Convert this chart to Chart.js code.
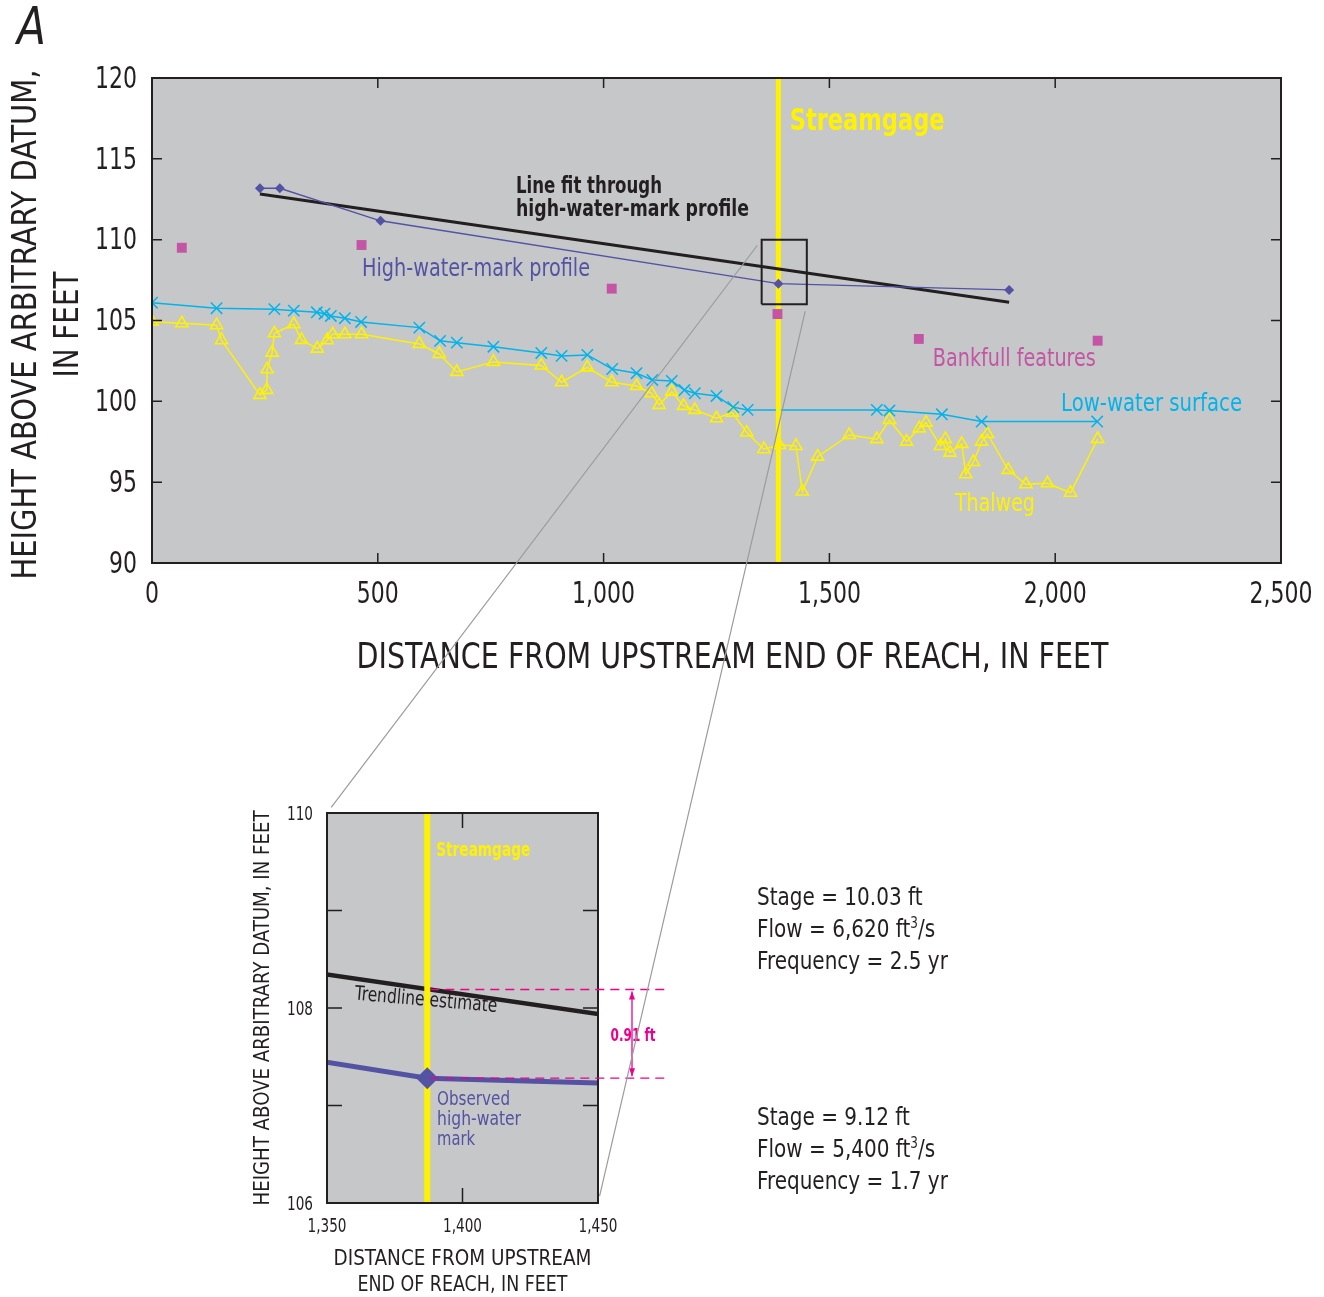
<!DOCTYPE html>
<html>
<head>
<meta charset="utf-8">
<script src="https://cdn.jsdelivr.net/npm/chart.js@4.4.1/dist/chart.umd.min.js"></script>
<style>
  body { margin: 0; background: #fff; }
  #page { position: relative; width: 1324px; height: 1297px; overflow: hidden;
          font-family: "Liberation Sans Narrow", "DejaVu Sans Condensed", sans-serif; color: #231f20; }
  #mainChart { position: absolute; left: 0; top: 0; }
  #insetChart { position: absolute; left: 240px; top: 790px; }
  #overlay { position: absolute; left: 0; top: 0; pointer-events: none; }
  #panel { position: absolute; left: 17px; top: -3px; font-size: 51px; font-style: italic; transform: scaleX(0.92); transform-origin: 0 0; }
  .stats { position: absolute; left: 757px; font-size: 25px; line-height: 32px; white-space: nowrap;
           transform: scaleX(0.89); transform-origin: 0 0; }
  .stats sup { font-size: 15px; line-height: 0; }
</style>
</head>
<body>
<div id="page">
  <canvas id="mainChart" width="1324" height="700"></canvas>
  <canvas id="insetChart" width="470" height="507"></canvas>
  <canvas id="overlay" width="1324" height="1297"></canvas>
  <div id="panel">A</div>
  <div class="stats" style="top:881px">Stage = 10.03 ft<br>Flow = 6,620 ft<sup>3</sup>/s<br>Frequency = 2.5 yr</div>
  <div class="stats" style="top:1101px">Stage = 9.12 ft<br>Flow = 5,400 ft<sup>3</sup>/s<br>Frequency = 1.7 yr</div>
</div>
<script>
/* --------- データ --------- */
// 最深河床線 Thalweg
const thalwegDist = [0, 66, 143, 154, 239, 254, 255, 266, 271, 314, 331, 366, 388, 400, 427, 464,
  592, 636, 675, 756, 862, 907, 964, 1018, 1073, 1106, 1123, 1151, 1177, 1202, 1250, 1285, 1317,
  1355, 1389, 1426, 1440, 1474, 1544, 1605, 1633, 1671, 1699, 1714, 1746, 1757, 1767, 1793, 1802,
  1819, 1837, 1850, 1896, 1935, 1983, 2034, 2094];
const thalwegElev = [104.93, 104.83, 104.71, 103.78, 100.4, 100.71, 101.98, 103.01, 104.21, 104.77,
  103.8, 103.26, 103.78, 104.15, 104.15, 104.15, 103.55, 102.93, 101.82, 102.44, 102.22, 101.18,
  102.1, 101.18, 100.95, 100.5, 99.78, 100.6, 99.72, 99.47, 98.95, 99.3, 98.07, 97.04, 97.3, 97.24,
  94.42, 96.58, 97.92, 97.66, 98.85, 97.51, 98.33, 98.68, 97.24, 97.66, 96.83, 97.37, 95.49, 96.25,
  97.51, 97.98, 95.76, 94.87, 94.93, 94.35, 97.67];

// 低水位 Low-water surface
const lowDist = [0, 143, 271, 314, 365, 382, 396, 427, 463, 592, 638, 675, 756, 862, 907, 964,
  1019, 1073, 1108, 1151, 1179, 1202, 1250, 1287, 1319, 1605, 1633, 1749, 1837, 2093];
const lowElev = [106.1, 105.76, 105.7, 105.61, 105.51, 105.42, 105.28, 105.14, 104.91, 104.56,
  103.74, 103.63, 103.38, 102.99, 102.81, 102.87, 102.0, 101.74, 101.32, 101.26, 100.7, 100.5,
  100.33, 99.64, 99.47, 99.47, 99.43, 99.2, 98.75, 98.75];

// 高水痕 High-water-mark profile
const hwmDist = [239, 283, 506, 1387, 1898];
const hwmElev = [113.18, 113.18, 111.17, 107.28, 106.89];

// 近似直線 Line fit through high-water-mark profile
const fitDist = [239, 1898];
const fitElev = [112.83, 106.13];

// 満水位の痕跡 Bankfull features
const bankDist = [66, 464, 1018, 1385, 1698, 2094];
const bankElev = [109.5, 109.67, 106.97, 105.4, 103.86, 103.75];

// 水位観測所 Streamgage
const gageDist = 1387;

// 軸の範囲・目盛
const mainXRange = [0, 2500];
const mainYRange = [90, 120];
const mainXStep = 500;
const mainYStep = 5;
const zoomXRange = [1350, 1450];
const zoomYRange = [106, 110];
const zoomXStep = 50;
const zoomYStep = 1;

// 拡大図の差（トレンド推定値と観測値）
const gapElev = [108.19, 107.28];
const gapLabel = "0.91 ft";

/* --------- 色・フォント --------- */
const FONT = '"Liberation Sans Narrow", "DejaVu Sans Condensed", sans-serif';
const C = {
  plot: "#c6c7c9",
  ink: "#231f20",
  yellow: "#fff200",
  cyan: "#00b4eb",
  hwm: "#5352a3",
  bank: "#c455a4",
  pink: "#ec008c",
  connector: "#9b9b9b",
};

const pts = (xs, ys) => xs.map((x, i) => ({ x, y: ys[i] }));
const fmt = (v) => v.toLocaleString("en-US");

/* --------- ヘルパー --------- */
// 幅を合わせて横方向に縮めた文字を描く
function squeeze(ctx, s, x, y, align, sx, rot) {
  ctx.save();
  ctx.translate(x, y);
  if (rot) ctx.rotate(rot);
  ctx.translate(0, 2);
  ctx.scale(sx, 1);
  ctx.textAlign = align;
  ctx.textBaseline = "middle";
  ctx.fillText(s, 0, 0);
  ctx.restore();
}
const fitSx = (ctx, s, w) => w / ctx.measureText(s).width;

/* --------- プラグイン --------- */
// プロット領域の背景
const plotBg = {
  id: "plotBg",
  beforeDatasetsDraw(chart) {
    const { ctx, chartArea: a } = chart;
    ctx.save();
    ctx.fillStyle = C.plot;
    ctx.fillRect(a.left, a.top, a.width, a.height);
    ctx.restore();
  },
};

// 内向きの目盛と枠
const innerTicks = {
  id: "innerTicks",
  afterDatasetsDraw(chart, args, opts) {
    const { ctx, chartArea: a, scales } = chart;
    const len = opts.len || 10;
    ctx.save();
    ctx.strokeStyle = C.ink;
    ctx.lineWidth = 1.5;
    ctx.beginPath();
    scales.x.ticks.forEach((t) => {
      const px = scales.x.getPixelForValue(t.value);
      ctx.moveTo(px, a.bottom); ctx.lineTo(px, a.bottom - len);
      ctx.moveTo(px, a.top); ctx.lineTo(px, a.top + len);
    });
    scales.y.ticks.forEach((t) => {
      const py = scales.y.getPixelForValue(t.value);
      ctx.moveTo(a.left, py); ctx.lineTo(a.left + len, py);
      ctx.moveTo(a.right, py); ctx.lineTo(a.right - len, py);
    });
    ctx.stroke();
    ctx.lineWidth = 2;
    ctx.strokeRect(a.left, a.top, a.width, a.height);
    ctx.restore();
  },
};

// 目盛ラベルと軸タイトル
const axisText = {
  id: "axisText",
  afterDraw(chart, args, o) {
    const { ctx, chartArea: a, scales: { x, y } } = chart;
    ctx.save();
    ctx.fillStyle = C.ink;
    ctx.font = `${o.tickSize}px ${FONT}`;
    const sx = fitSx(ctx, o.tickRef[0], o.tickRef[1]);
    x.ticks.forEach((t) => {
      if (t.label !== "") squeeze(ctx, t.label, x.getPixelForValue(t.value), a.bottom + o.xPad, "center", sx);
    });
    y.ticks.forEach((t) => {
      if (t.label !== "") squeeze(ctx, t.label, a.left - o.yPad, y.getPixelForValue(t.value), "right", sx);
    });
    const cx = (a.left + a.right) / 2;
    const cy = (a.top + a.bottom) / 2;
    const xt = o.xTitle;
    ctx.font = `${xt.size}px ${FONT}`;
    xt.lines.forEach((s, i) => {
      squeeze(ctx, s, cx + xt.dx, a.bottom + xt.dy + i * xt.lh, "center", fitSx(ctx, s, xt.w[i]));
    });
    const yt = o.yTitle;
    ctx.font = `${yt.size}px ${FONT}`;
    yt.lines.forEach((s, i) => {
      squeeze(ctx, s, a.left + yt.dx + i * yt.lh, cy + yt.dy, "center", fitSx(ctx, s, yt.w[i]), -Math.PI / 2);
    });
    ctx.restore();
  },
};

// 文字の注記（データ座標で配置）
const textNotes = {
  id: "textNotes",
  afterDraw(chart, args, opts) {
    const { ctx, scales: { x, y } } = chart;
    (opts.items || []).forEach((n) => {
      ctx.save();
      ctx.font = `${n.bold ? "bold " : ""}${n.size}px ${FONT}`;
      ctx.fillStyle = n.color;
      const px = x.getPixelForValue(n.x);
      const py = y.getPixelForValue(n.y);
      n.lines.forEach((s, i) => {
        const r = n.rot ? (n.rot * Math.PI) / 180 : 0;
        squeeze(ctx, s, px - Math.sin(r) * i * n.lh, py + Math.cos(r) * i * n.lh, "left", fitSx(ctx, s, n.w[i]), r);
      });
      ctx.restore();
    });
  },
};

// 拡大図の差の表示（破線と矢印）
const gapMarker = {
  id: "gapMarker",
  afterDraw(chart) {
    if (!chart.options.plugins.gapMarker.on) return;
    const { ctx, chartArea: a, scales: { x, y } } = chart;
    const x0 = x.getPixelForValue(gageDist) + 3;
    const x1 = a.right + 72;
    const ax = a.right + 34;
    const y0 = y.getPixelForValue(gapElev[0]);
    const y1 = y.getPixelForValue(gapElev[1]);
    ctx.save();
    ctx.strokeStyle = C.pink;
    ctx.lineWidth = 1.3;
    ctx.setLineDash([9, 6]);
    ctx.beginPath();
    [y0, y1].forEach((py) => { ctx.moveTo(x0, py); ctx.lineTo(x1, py); });
    ctx.stroke();
    ctx.setLineDash([]);
    ctx.beginPath();
    ctx.moveTo(ax, y0 + 2); ctx.lineTo(ax, y1 - 2);
    ctx.stroke();
    ctx.fillStyle = C.pink;
    [[y0 + 2, 1], [y1 - 2, -1]].forEach(([py, d]) => {
      ctx.beginPath();
      ctx.moveTo(ax, py);
      ctx.lineTo(ax - 3, py + 8 * d);
      ctx.lineTo(ax + 3, py + 8 * d);
      ctx.closePath();
      ctx.fill();
    });
    ctx.font = `bold 18px ${FONT}`;
    squeeze(ctx, gapLabel, ax + 1, (y0 + y1) / 2, "center", fitSx(ctx, gapLabel, 45));
    ctx.restore();
  },
};

const hiddenScale = { grid: { display: false, drawTicks: false }, border: { display: false } };

/* --------- 本図 --------- */
const mainChart = new Chart(document.getElementById("mainChart"), {
  type: "line",
  data: {
    datasets: [
      {
        label: "zoom box",
        data: pts(
          [zoomXRange[0], zoomXRange[0], zoomXRange[1], zoomXRange[1], zoomXRange[0]],
          [zoomYRange[0], zoomYRange[1], zoomYRange[1], zoomYRange[0], zoomYRange[0]]
        ),
        borderColor: C.ink, borderWidth: 2, pointRadius: 0, tension: 0,
      },
      {
        label: "Bankfull features",
        data: pts(bankDist, bankElev),
        showLine: false, pointStyle: "rect", pointRadius: 7,
        backgroundColor: C.bank, borderColor: C.bank, borderWidth: 0,
      },
      {
        label: "High-water-mark profile",
        data: pts(hwmDist, hwmElev),
        borderColor: C.hwm, borderWidth: 1.3, backgroundColor: C.hwm,
        pointStyle: "rectRot", pointRadius: 5, pointBorderWidth: 0,
      },
      {
        label: "Line fit",
        data: pts(fitDist, fitElev),
        borderColor: C.ink, borderWidth: 3, pointRadius: 0,
      },
      {
        label: "Streamgage",
        data: pts([gageDist, gageDist], mainYRange),
        borderColor: C.yellow, borderWidth: 5, pointRadius: 0,
      },
      {
        label: "Low-water surface",
        data: pts(lowDist, lowElev),
        borderColor: C.cyan, borderWidth: 1.5, pointStyle: "crossRot",
        pointRadius: 8, pointBorderWidth: 1.5, pointBorderColor: C.cyan,
      },
      {
        label: "Thalweg",
        data: pts(thalwegDist, thalwegElev),
        borderColor: C.yellow, borderWidth: 1.5, pointStyle: "triangle",
        pointRadius: 7, pointBorderWidth: 1.6, pointBorderColor: C.yellow,
        pointBackgroundColor: "rgba(0,0,0,0)",
      },
    ],
  },
  options: {
    responsive: false,
    animation: false,
    events: [],
    layout: { padding: { top: 78, right: 43, left: 0, bottom: 0 } },
    scales: {
      x: {
        type: "linear", min: mainXRange[0], max: mainXRange[1], ...hiddenScale,
        ticks: { stepSize: mainXStep, display: false, callback: fmt },
        afterFit: (s) => { s.height = 137; },
      },
      y: {
        min: mainYRange[0], max: mainYRange[1], ...hiddenScale,
        ticks: { stepSize: mainYStep, display: false },
        afterFit: (s) => { s.width = 152; },
      },
    },
    plugins: {
      legend: { display: false },
      tooltip: { enabled: false },
      innerTicks: { len: 10 },
      gapMarker: { on: false },
      axisText: {
        tickSize: 30, tickRef: ["1,000", 63], xPad: 30, yPad: 15,
        xTitle: { lines: ["DISTANCE FROM UPSTREAM END OF REACH, IN FEET"], w: [752], size: 35, dx: 16, dy: 94, lh: 0 },
        yTitle: { lines: ["HEIGHT ABOVE ARBITRARY DATUM,", "IN FEET"], w: [510, 106], size: 33, dx: -127, dy: 4, lh: 42 },
      },
      textNotes: {
        items: [
          { lines: ["Streamgage"], w: [155], x: 1412, y: 117.4, size: 30, bold: true, color: C.yellow, lh: 0 },
          { lines: ["Line fit through", "high-water-mark profile"], w: [146, 233], x: 806, y: 113.4, size: 23, bold: true, color: C.ink, lh: 23 },
          { lines: ["High-water-mark profile"], w: [228], x: 465, y: 108.25, size: 24, color: C.hwm, lh: 0 },
          { lines: ["Bankfull features"], w: [163], x: 1729, y: 102.68, size: 24, color: C.bank, lh: 0 },
          { lines: ["Low-water surface"], w: [181], x: 2013, y: 99.9, size: 24, color: C.cyan, lh: 0 },
          { lines: ["Thalweg"], w: [80], x: 1778, y: 93.72, size: 24, color: C.yellow, lh: 0 },
        ],
      },
    },
  },
  plugins: [plotBg, innerTicks, axisText, textNotes, gapMarker],
});

/* --------- 拡大図 --------- */
const insetChart = new Chart(document.getElementById("insetChart"), {
  type: "line",
  data: {
    datasets: [
      {
        label: "High-water mark",
        data: pts(hwmDist, hwmElev),
        borderColor: C.hwm, borderWidth: 5, backgroundColor: C.hwm,
        pointStyle: "rectRot", pointRadius: 11, pointBorderWidth: 0,
      },
      {
        label: "Streamgage",
        data: pts([gageDist, gageDist], zoomYRange),
        borderColor: C.yellow, borderWidth: 6, pointRadius: 0,
      },
      {
        label: "Trendline",
        data: pts(fitDist, fitElev),
        borderColor: C.ink, borderWidth: 4.5, pointRadius: 0,
      },
    ],
  },
  options: {
    responsive: false,
    animation: false,
    events: [],
    layout: { padding: { top: 23, right: 112, left: 0, bottom: 0 } },
    scales: {
      x: {
        type: "linear", min: zoomXRange[0], max: zoomXRange[1], ...hiddenScale,
        ticks: { stepSize: zoomXStep, display: false, callback: fmt },
        afterFit: (s) => { s.height = 94; },
      },
      y: {
        min: zoomYRange[0], max: zoomYRange[1], ...hiddenScale,
        ticks: { stepSize: zoomYStep, display: false, callback: (v) => (v % 2 === 0 ? String(v) : "") },
        afterFit: (s) => { s.width = 87; },
      },
    },
    plugins: {
      legend: { display: false },
      tooltip: { enabled: false },
      innerTicks: { len: 15 },
      gapMarker: { on: true },
      axisText: {
        tickSize: 19, tickRef: ["1,350", 39], xPad: 22, yPad: 14,
        xTitle: { lines: ["DISTANCE FROM UPSTREAM", "END OF REACH, IN FEET"], w: [258, 210], size: 21, dx: 0, dy: 55, lh: 26 },
        yTitle: { lines: ["HEIGHT ABOVE ARBITRARY DATUM, IN FEET"], w: [395], size: 20.5, dx: -65, dy: 0, lh: 0 },
      },
      textNotes: {
        items: [
          { lines: ["Streamgage"], w: [94], x: 1390.3, y: 109.63, size: 19, bold: true, color: C.yellow, lh: 0 },
          { lines: ["Trendline estimate"], w: [143], x: 1360.3, y: 108.16, size: 20, color: C.ink, lh: 0, rot: 5 },
          { lines: ["Observed", "high-water", "mark"], w: [73, 84, 38], x: 1390.6, y: 107.08, size: 20, color: C.hwm, lh: 20 },
        ],
      },
    },
  },
  plugins: [plotBg, innerTicks, axisText, textNotes, gapMarker],
});

/* --------- 拡大範囲をつなぐ線 --------- */
function drawConnectors() {
  const ctx = document.getElementById("overlay").getContext("2d");
  const mx = mainChart.scales.x, my = mainChart.scales.y;
  const ia = insetChart.chartArea;
  const off = { x: 240, y: 790 };
  const pairs = [
    [[mx.getPixelForValue(zoomXRange[0]), my.getPixelForValue(zoomYRange[1])], [ia.left + off.x, ia.top + off.y]],
    [[mx.getPixelForValue(zoomXRange[1]), my.getPixelForValue(zoomYRange[0])], [ia.right + off.x, ia.bottom + off.y]],
  ];
  ctx.strokeStyle = C.connector;
  ctx.lineWidth = 1.2;
  ctx.beginPath();
  pairs.forEach(([p, q]) => {
    const dx = q[0] - p[0], dy = q[1] - p[1];
    const L = Math.hypot(dx, dy);
    const g = 7;
    ctx.moveTo(p[0] + (dx * g) / L, p[1] + (dy * g) / L);
    ctx.lineTo(q[0] - (dx * g) / L, q[1] - (dy * g) / L);
  });
  ctx.stroke();
}
drawConnectors();
</script>
</body>
</html>
